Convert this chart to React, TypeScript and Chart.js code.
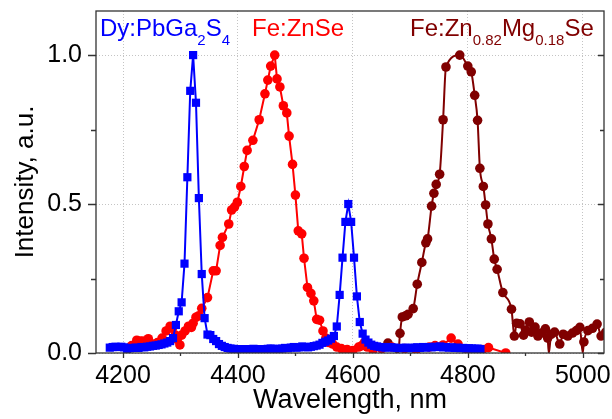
import React, { useEffect, useRef } from "react";
import { Chart, registerables } from "chart.js";

Chart.register(...registerables);

const FONT = "'Liberation Sans', Arial, sans-serif";

const xTicks = [4200, 4400, 4600, 4800, 5000];
const xMinorTicks = [4300, 4500, 4700, 4900];
const yTicks = [0, 0.5, 1.0];
const yMinorTicks = [0.25, 0.75];
const yTickLabels = ["0.0", "0.5", "1.0"];

const xTitle = "Wavelength, nm";
const yTitle = "Intensity, a.u.";

// Dy:PbGa2S4 (blue squares)
const blueX = [
  4177, 4182, 4187, 4192, 4197, 4202, 4207, 4212, 4217, 4222, 4227, 4232, 4237, 4242, 4247, 4252,
  4257, 4262, 4267, 4272, 4277, 4282, 4287, 4292, 4297, 4302, 4307, 4312, 4317, 4322, 4327, 4332,
  4337, 4342, 4347, 4352, 4357, 4362, 4367, 4372, 4377, 4382, 4387, 4392, 4397, 4402, 4407, 4412,
  4417, 4422, 4427, 4432, 4437, 4442, 4447, 4452, 4457, 4462, 4467, 4472, 4477, 4482, 4487, 4492,
  4497, 4502, 4507, 4512, 4517, 4522, 4527, 4532, 4537, 4542, 4547, 4552, 4557, 4562, 4567, 4572,
  4577, 4582, 4587, 4592, 4597, 4602, 4607, 4612, 4617, 4622, 4627, 4632, 4637, 4642, 4647, 4652,
  4657, 4662, 4667, 4672, 4677, 4682, 4687, 4692, 4697, 4702, 4707, 4712, 4717, 4722, 4727, 4732,
  4737, 4742, 4747, 4752, 4757, 4762, 4767, 4772, 4777, 4782, 4787, 4792, 4797, 4802, 4807, 4812,
  4817, 4822,
];
const blueY = [
  0.018, 0.02, 0.021, 0.02, 0.021, 0.019, 0.014, 0.016, 0.017, 0.018, 0.017, 0.02, 0.019, 0.021, 0.022, 0.024,
  0.025, 0.027, 0.029, 0.032, 0.035, 0.04, 0.05, 0.094, 0.14, 0.17, 0.30, 0.59, 0.88, 1.0, 0.84, 0.52,
  0.265, 0.117, 0.062, 0.06, 0.047, 0.04, 0.03, 0.024, 0.02, 0.017, 0.015, 0.014, 0.013, 0.013, 0.012, 0.013,
  0.012, 0.013, 0.014, 0.012, 0.013, 0.013, 0.012, 0.014, 0.015, 0.014, 0.013, 0.014, 0.015, 0.017, 0.016, 0.018,
  0.02, 0.018, 0.019, 0.022, 0.02, 0.019, 0.021, 0.023, 0.025, 0.028, 0.034, 0.038, 0.042, 0.048, 0.057, 0.089,
  0.195, 0.32, 0.44, 0.50, 0.44, 0.32, 0.19, 0.104, 0.065, 0.045, 0.035, 0.028, 0.024, 0.022, 0.02, 0.019,
  0.018, 0.02, 0.019, 0.018, 0.017, 0.016, 0.017, 0.018, 0.016, 0.017, 0.018, 0.019, 0.017, 0.02, 0.018, 0.02,
  0.019, 0.021, 0.02, 0.022, 0.019, 0.02, 0.018, 0.019, 0.017, 0.018, 0.016, 0.017, 0.015, 0.016, 0.015, 0.014,
  0.015, 0.013,
];

// Fe:ZnSe (red circles)
const redX = [
  4215, 4224, 4230, 4235, 4244, 4252, 4260, 4268, 4275, 4282, 4286, 4291, 4294, 4299, 4302, 4308,
  4314, 4319, 4322, 4327, 4332, 4337, 4347, 4357, 4362, 4369, 4373, 4384, 4389, 4394, 4399, 4405,
  4411, 4416, 4426, 4437, 4447, 4452, 4457, 4464, 4468, 4473, 4479, 4485, 4489, 4495, 4500, 4505,
  4511, 4515, 4521, 4527, 4532, 4537, 4542, 4548, 4553, 4558, 4565, 4572, 4580, 4590, 4600, 4610,
  4615, 4620, 4625, 4635, 4650, 4668, 4690, 4710, 4733, 4743, 4757, 4771, 4783, 4800, 4826, 4836,
  4866,
];
const redY = [
  0.025, 0.043, 0.04, 0.04, 0.048, 0.03, 0.035, 0.05, 0.074, 0.09, 0.083, 0.06, 0.046, 0.027, 0.06, 0.074,
  0.09, 0.086, 0.1, 0.12, 0.125, 0.15, 0.186, 0.276, 0.276, 0.361, 0.388, 0.433, 0.48, 0.49, 0.506, 0.559,
  0.626, 0.68, 0.714, 0.783, 0.87, 0.916, 0.963, 1.0, 0.92, 0.893, 0.83, 0.806, 0.728, 0.633, 0.53, 0.41,
  0.40, 0.318, 0.22, 0.20, 0.175, 0.113, 0.11, 0.074, 0.05, 0.035, 0.03, 0.02, 0.015, 0.012, 0.008, 0.02,
  0.024, 0.035, 0.02, 0.01, 0.015, 0.02, 0.015, 0.01, 0.02, 0.025, 0.027, 0.05, 0.03, 0.01, 0.012, 0.018,
  0.0,
];

// Fe:Zn0.82Mg0.18Se (dark red circles, smooth line)
const brownX = [
  4661, 4679, 4682, 4686, 4692, 4696, 4705, 4712, 4720, 4727, 4730, 4737, 4741, 4745, 4751, 4757,
  4762, 4786, 4800, 4806, 4812, 4817, 4821, 4827, 4831, 4835, 4841, 4846, 4851, 4861, 4876, 4881,
  4885, 4891, 4897, 4901, 4907, 4911, 4917, 4922, 4928, 4935, 4939, 4941, 4945, 4951, 4960, 4966,
  4974, 4982, 4989, 4995, 5000, 5002, 5009, 5017, 5025, 5032, 5040,
];
const brownY = [
  0.033, 0.0, 0.066, 0.121, 0.125, 0.13, 0.149, 0.231, 0.304, 0.37, 0.383, 0.493, 0.536, 0.566, 0.60, 0.783,
  0.96, 1.0, 0.963, 0.944, 0.865, 0.781, 0.62, 0.559, 0.497, 0.433, 0.383, 0.315, 0.281, 0.203, 0.147, 0.057,
  0.10, 0.098, 0.06, 0.077, 0.104, 0.07, 0.087, 0.057, 0.067, 0.081, 0.05, 0.0, 0.063, 0.07, 0.03, 0.063,
  0.057, 0.067, 0.075, 0.086, 0.0, 0.037, 0.075, 0.083, 0.097, 0.057, 0.07,
];

// in-plot labels: [text, isSubscript]
const blueLabel: [string, boolean][] = [["Dy:PbGa", false], ["2", true], ["S", false], ["4", true]];
const redLabel: [string, boolean][] = [["Fe:ZnSe", false]];
const brownLabel: [string, boolean][] = [["Fe:Zn", false], ["0.82", true], ["Mg", false], ["0.18", true], ["Se", false]];

const BLUE = "#0000ff";
const RED = "#ff0000";
const BROWN = "#800000";

function drawLabel(ctx: CanvasRenderingContext2D, parts: [string, boolean][], x: number, y: number, color: string) {
  ctx.fillStyle = color;
  ctx.textBaseline = "alphabetic";
  ctx.textAlign = "left";
  let cx = x;
  for (const [t, sub] of parts) {
    ctx.font = sub ? `15px ${FONT}` : `24px ${FONT}`;
    ctx.fillText(t, cx, sub ? y + 9 : y);
    cx += ctx.measureText(t).width;
  }
}

const framePlugin = {
  id: "frame",
  afterDraw(chart: any) {
    const { ctx, chartArea } = chart;
    const { left, right, top, bottom } = chartArea;
    const xs = chart.scales.x;
    const ys = chart.scales.y;
    ctx.save();
    ctx.strokeStyle = "#333333";
    ctx.lineWidth = 1.3;
    ctx.strokeRect(left, top, right - left, bottom - top);
    ctx.beginPath();
    for (const v of xTicks) {
      const p = Math.round(xs.getPixelForValue(v)) + 0.5;
      ctx.moveTo(p, bottom);
      ctx.lineTo(p, bottom + 5);
    }
    for (const v of xMinorTicks) {
      const p = Math.round(xs.getPixelForValue(v)) + 0.5;
      ctx.moveTo(p, bottom);
      ctx.lineTo(p, bottom + 3);
    }
    for (const v of yTicks) {
      const p = Math.round(ys.getPixelForValue(v)) + 0.5;
      ctx.moveTo(left, p);
      ctx.lineTo(left - 8, p);
      ctx.moveTo(right, p);
      ctx.lineTo(right - 6, p);
    }
    for (const v of yMinorTicks) {
      const p = Math.round(ys.getPixelForValue(v)) + 0.5;
      ctx.moveTo(left, p);
      ctx.lineTo(left - 5, p);
      ctx.moveTo(right, p);
      ctx.lineTo(right - 4, p);
    }
    ctx.stroke();
    drawLabel(ctx, blueLabel, 100, 36, BLUE);
    drawLabel(ctx, redLabel, 252, 36, RED);
    drawLabel(ctx, brownLabel, 410, 36, BROWN);
    ctx.restore();
  },
};

const noPad = (s: any) => {
  s.paddingTop = 0;
  s.paddingBottom = 0;
  s.paddingLeft = 0;
  s.paddingRight = 0;
};

export default function App() {
  const ref = useRef<HTMLCanvasElement | null>(null);
  useEffect(() => {
    if (!ref.current) return;
    const toPts = (xs: number[], ys: number[]) => xs.map((x, i) => ({ x, y: ys[i] }));
    const chart = new Chart(ref.current, {
      type: "line",
      data: {
        datasets: [
          {
            label: "Dy:PbGa2S4",
            data: toPts(blueX, blueY),
            borderColor: BLUE,
            backgroundColor: BLUE,
            pointStyle: "rect",
            pointRadius: 5.8,
            pointBorderWidth: 0,
            borderWidth: 2,
            tension: 0,
          },
          {
            label: "Fe:ZnSe",
            data: toPts(redX, redY),
            borderColor: RED,
            backgroundColor: RED,
            pointStyle: "circle",
            pointRadius: 4.8,
            pointBorderWidth: 0,
            borderWidth: 2,
            tension: 0,
          },
          {
            label: "Fe:Zn0.82Mg0.18Se",
            data: toPts(brownX, brownY),
            borderColor: BROWN,
            backgroundColor: BROWN,
            pointStyle: "circle",
            pointRadius: brownY.map((v) => (v <= 0.001 ? 0 : 4.8)),
            pointBorderWidth: 0,
            borderWidth: 2,
            cubicInterpolationMode: "monotone",
          },
        ],
      },
      options: {
        responsive: false,
        animation: false,
        devicePixelRatio: 1,
        layout: { padding: { top: 11, right: 8, left: 0, bottom: 0 } },
        plugins: { legend: { display: false }, tooltip: { enabled: false } },
        scales: {
          x: {
            type: "linear",
            min: 4153,
            max: 5037,
            afterBuildTicks: (s: any) => {
              s.ticks = xTicks.map((v) => ({ value: v }));
            },
            afterFit: (s: any) => {
              s.height = 66;
              noPad(s);
            },
            ticks: {
              padding: 8,
              color: "#000",
              font: { family: FONT, size: 25 },
              callback: (v: any) => String(v),
            },
            grid: { color: "#c4c4c4", lineWidth: 1, drawTicks: false },
            border: { display: false, dash: [1, 2] },
            title: {
              display: true,
              text: xTitle,
              color: "#000",
              font: { family: FONT, size: 27 },
              padding: { top: 0, bottom: 2 },
            },
          },
          y: {
            type: "linear",
            min: 0,
            max: 1.148,
            afterBuildTicks: (s: any) => {
              s.ticks = yTicks.map((v) => ({ value: v }));
            },
            afterFit: (s: any) => {
              s.width = 96;
              noPad(s);
            },
            ticks: {
              padding: 14,
              color: "#000",
              font: { family: FONT, size: 25 },
              callback: (v: any) => yTickLabels[yTicks.indexOf(v)] ?? String(v),
            },
            grid: { color: "#c4c4c4", lineWidth: 1, drawTicks: false },
            border: { display: false, dash: [1, 2] },
            title: {
              display: true,
              text: yTitle,
              color: "#000",
              font: { family: FONT, size: 26 },
              padding: { top: 10, bottom: 0 },
            },
          },
        },
      },
      plugins: [framePlugin],
    } as any);
    return () => chart.destroy();
  }, []);
  return (
    <div style={{ position: "absolute", left: 0, top: 0, width: 612, height: 419, background: "#fff" }}>
      <canvas ref={ref} width={612} height={419} style={{ display: "block" }} />
    </div>
  );
}
